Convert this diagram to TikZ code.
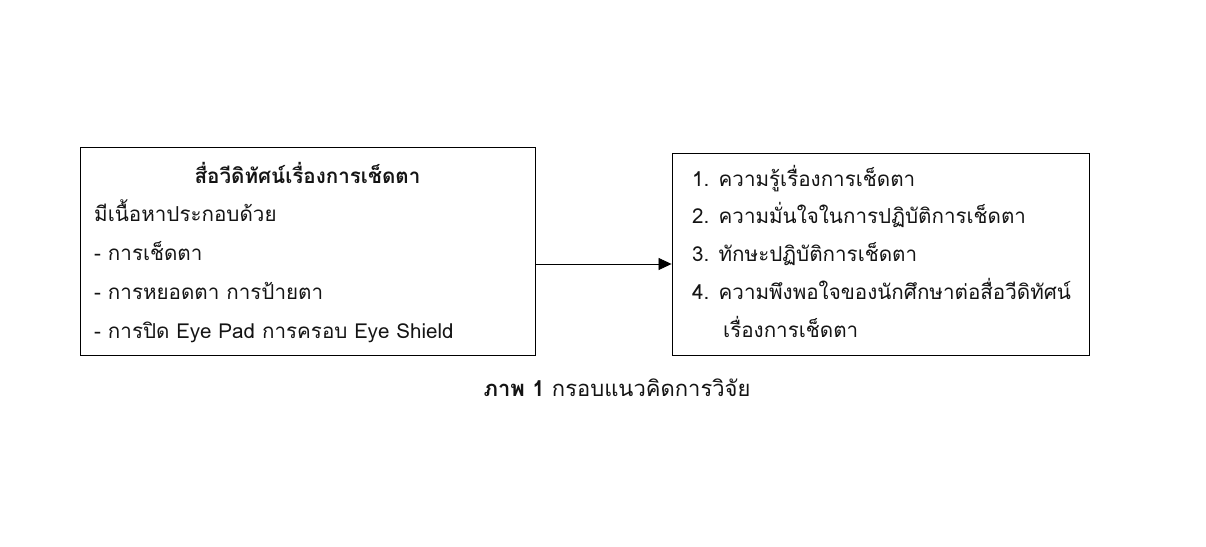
\documentclass[tikz,border=0pt]{standalone}
\usepackage{fontspec}
\setmainfont[Script=Thai]{Loma}
\usepackage{tikz}
\usetikzlibrary{arrows.meta}
\usepackage{xcolor}
\definecolor{ColLine}{RGB}{0,0,0}
\definecolor{ColText}{RGB}{20,20,20}
\tikzstyle{BoxFrame}=[rectangle,draw=ColLine,line width=0.9pt,inner sep=0pt]
\tikzstyle{TextLine}=[anchor=base west,inner sep=0pt,text=ColText,font=\fontsize{20.6}{24}\selectfont]
\tikzstyle{TitleLine}=[anchor=base,inner sep=0pt,text=ColText,font=\fontsize{20.6}{24}\selectfont\bfseries]
\tikzstyle{ArrowLink}=[ColLine,line width=0.8pt,-{Triangle[length=13pt,width=12pt]}]

\begin{document}
\begin{tikzpicture}[x=1pt,y=-1pt]
        \useasboundingbox(0,0)rectangle(1206,546);
        % two boxes
        \node[BoxFrame,minimum width=455pt,minimum height=208pt](media)at(307.5,251){};
        \node[BoxFrame,minimum width=417pt,minimum height=202pt](result)at(880.5,254){};
        % left box text
        \node[TitleLine](mediatitle)at(307.5,183){สื่อวีดิทัศน์เรื่องการเช็ดตา};
        \node[TextLine](mediaa)at(94,221){มีเนื้อหาประกอบด้วย};
        \node[TextLine](mediab)at(94,260){- การเช็ดตา};
        \node[TextLine](mediac)at(94,299){- การหยอดตา การป้ายตา};
        \node[TextLine](mediad)at(94,338){- การปิด Eye Pad การครอบ Eye Shield};
        % right box text
        \node[TextLine](resulta)at(692,186){1. ความรู้เรื่องการเช็ดตา};
        \node[TextLine](resultb)at(692,223){2. ความมั่นใจในการปฏิบัติการเช็ดตา};
        \node[TextLine](resultc)at(692,261){3. ทักษะปฏิบัติการเช็ดตา};
        \node[TextLine](resultd)at(692,299){4. ความพึงพอใจของนักศึกษาต่อสื่อวีดิทัศน์};
        \node[TextLine](resulte)at(723,337){เรื่องการเช็ดตา};
        % link
        \draw[ArrowLink](media.east|-0,264)--(result.west|-0,264);
        % caption
        \node[anchor=base,inner sep=0pt,text=ColText,font=\fontsize{22}{26}\selectfont](caption)at(617,396){\textbf{ภาพ 1} กรอบแนวคิดการวิจัย};
    \end{tikzpicture}
\end{document}
